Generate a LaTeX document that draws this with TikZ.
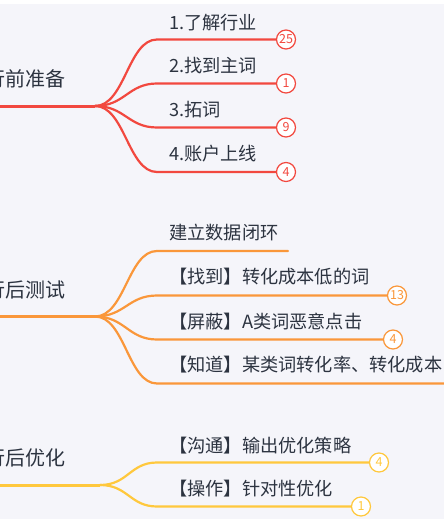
\documentclass[tikz,border=0pt]{standalone}
\usepackage{fontspec}
\setmainfont{Noto Sans CJK SC}
\definecolor{bgc}{HTML}{F5F5FA}
\definecolor{txtc}{HTML}{2C3340}
\definecolor{redc}{HTML}{F2483F}
\definecolor{orgc}{HTML}{FA973A}
\definecolor{ylwc}{HTML}{FFC83D}
\tikzset{
  lbl/.style={anchor=west, inner sep=0pt, text=txtc, font=\fontsize{18.2}{21}\selectfont},
  rootlbl/.style={anchor=west, inner sep=0pt, text=txtc, font=\fontsize{20}{24}\selectfont},
  num/.style={circle, draw=#1, fill=white, text=#1, line width=1.2pt, minimum size=19pt, inner sep=0pt, font=\fontsize{12.5}{14}\selectfont},
  br/.style={draw=#1, line width=2.2pt, line cap=round},
  trunk/.style={draw=#1, line width=3pt},
}
\begin{document}
\begin{tikzpicture}[x=1pt,y=-1pt]
\useasboundingbox (0,0) rectangle (444,519);
\clip (0,0) rectangle (444,519);
\fill[bgc] (0,0) rectangle (444,519);
\fill[white] (0,0) rectangle (444,4);

% ---------- section 1 ----------
\node[rootlbl] (root1) at (-15,79) {行前准备};
\coordinate (s1) at (-5,106);
\coordinate (j1) at (95,106);
\draw[trunk=redc] (s1) -- (j1);
\node[num=redc] (c11) at (286,39.5) {25};
\node[num=redc] (c12) at (286,83.5) {1};
\node[num=redc] (c13) at (286,127.5) {9};
\node[num=redc] (c14) at (286,172) {4};
\coordinate (b11) at (157,39.5);
\coordinate (b12) at (157,83.5);
\coordinate (b13) at (157,127.5);
\coordinate (b14) at (157,172);
\draw[br=redc] (j1) .. controls (125,106) and (128,39.5) .. (b11) -- (c11);
\draw[br=redc] (j1) .. controls (125,106) and (128,83.5) .. (b12) -- (c12);
\draw[br=redc] (j1) .. controls (125,106) and (128,127.5) .. (b13) -- (c13);
\draw[br=redc] (j1) .. controls (125,106) and (128,172) .. (b14) -- (c14);
\node[lbl] (t11) at (169,23) {1.了解行业};
\node[lbl] (t12) at (169,66) {2.找到主词};
\node[lbl] (t13) at (169,110) {3.拓词};
\node[lbl] (t14) at (169,154) {4.账户上线};

% ---------- section 2 ----------
\node[rootlbl] (root2) at (-15,290) {行后测试};
\coordinate (s2) at (-5,316.5);
\coordinate (j2) at (95,316.5);
\draw[trunk=orgc] (s2) -- (j2);
\node[num=orgc] (c22) at (397,295.5) {13};
\node[num=orgc] (c23) at (393,339.5) {4};
\coordinate (b21) at (157,251);
\coordinate (e21) at (288,251);
\coordinate (b22) at (157,295.5);
\coordinate (b23) at (157,339.5);
\coordinate (b24) at (157,383.5);
\coordinate (e24) at (460,383.5);
\draw[br=orgc] (j2) .. controls (125,316.5) and (128,251) .. (b21) -- (e21);
\draw[br=orgc] (j2) .. controls (125,316.5) and (128,295.5) .. (b22) -- (c22);
\draw[br=orgc] (j2) .. controls (125,316.5) and (128,339.5) .. (b23) -- (c23);
\draw[br=orgc] (j2) .. controls (125,316.5) and (128,383.5) .. (b24) -- (e24);
\node[lbl] (t21) at (169,233) {建立数据闭环};
\node[lbl] (t22) at (169,277) {【找到】转化成本低的词};
\node[lbl] (t23) at (169,322) {【屏蔽】A类词恶意点击};
\node[lbl] (t24) at (169,365) {【知道】某类词转化率、转化成本};

% ---------- section 3 ----------
\node[rootlbl] (root3) at (-15,458) {行后优化};
\coordinate (s3) at (-5,485);
\coordinate (j3) at (100,485);
\draw[trunk=ylwc] (s3) -- (j3);
\node[num=ylwc] (c31) at (379,462.5) {4};
\node[num=ylwc] (c32) at (361,506.5) {1};
\coordinate (b31) at (157,462.5);
\coordinate (b32) at (157,506.5);
\draw[br=ylwc] (j3) .. controls (128,485) and (130,462.5) .. (b31) -- (c31);
\draw[br=ylwc] (j3) .. controls (128,485) and (130,506.5) .. (b32) -- (c32);
\node[lbl] (t31) at (169,446) {【沟通】输出优化策略};
\node[lbl] (t32) at (169,489) {【操作】针对性优化};
\end{tikzpicture}
\end{document}
